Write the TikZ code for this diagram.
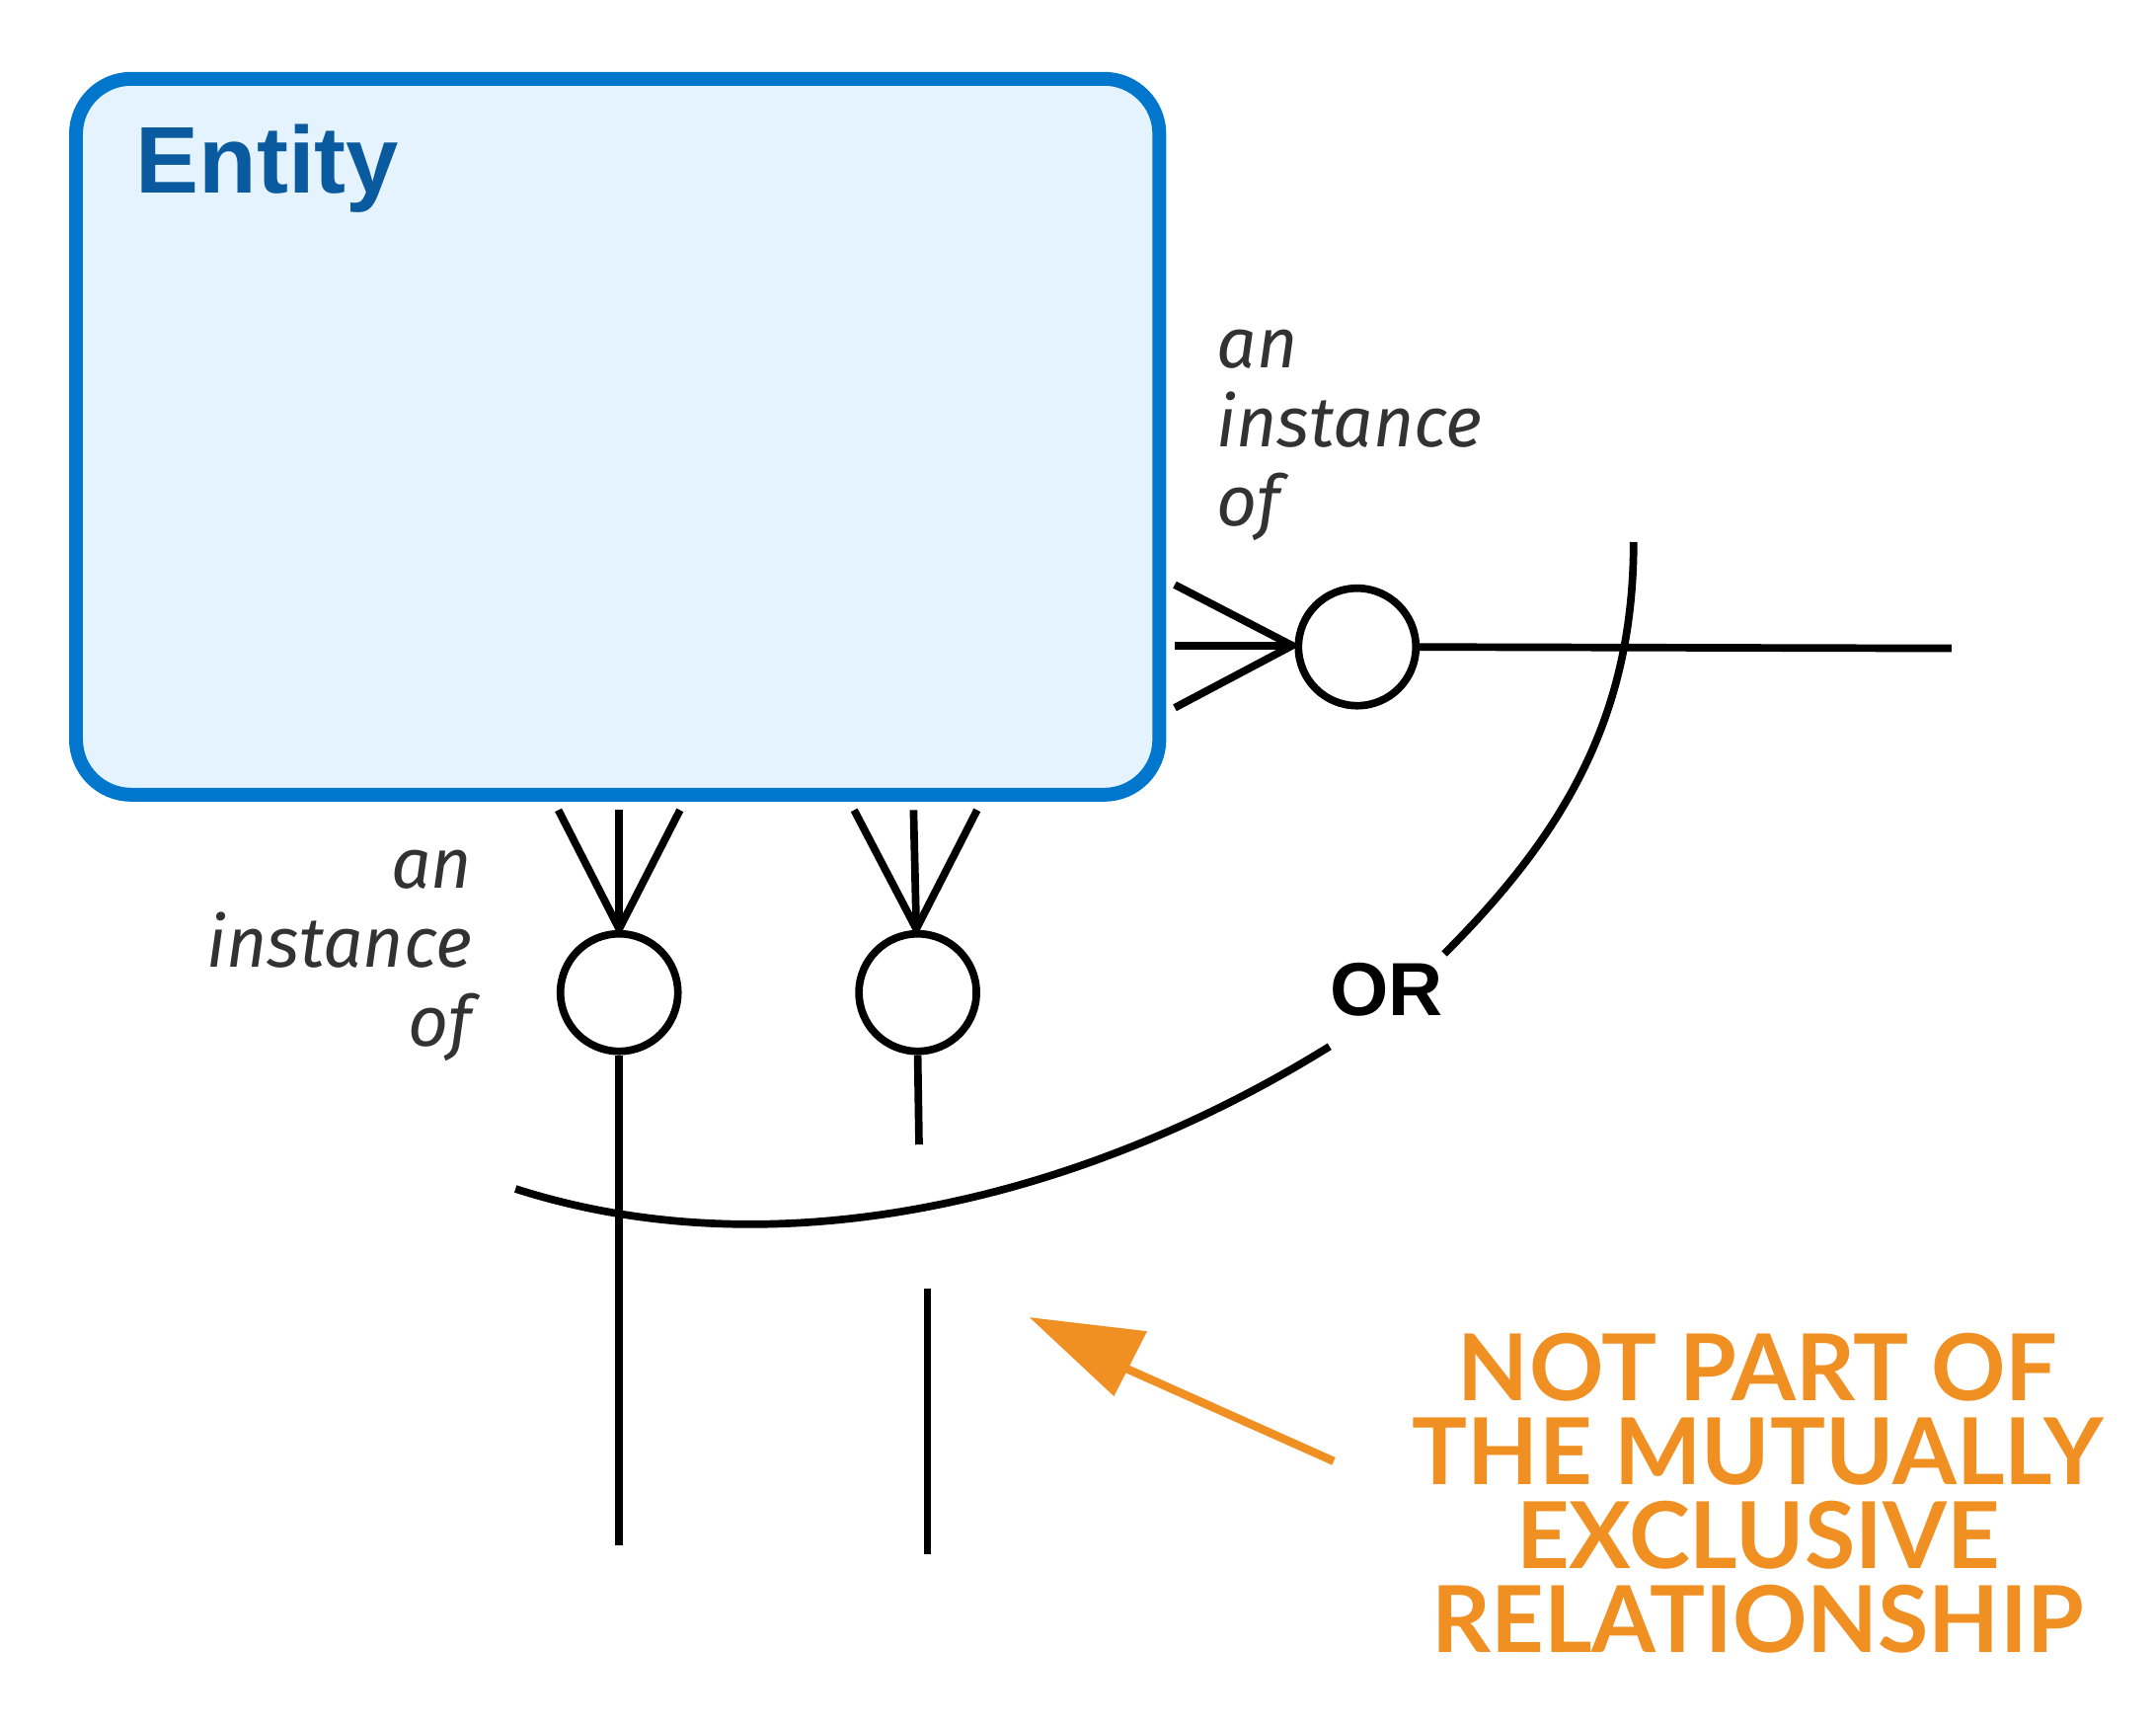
\documentclass[tikz,border=0pt]{standalone}
\usepackage{fontspec}
\setmainfont{Fira Sans}
\newfontfamily\entityfont{Liberation Sans}
\newfontfamily\notefont{Lato}
\usetikzlibrary{positioning}
\usetikzlibrary{calc}
\definecolor{boxblue}{RGB}{0,119,204}
\definecolor{boxfill}{RGB}{228,243,253}
\definecolor{titleblue}{RGB}{10,90,160}
\definecolor{notegray}{RGB}{50,50,50}
\definecolor{noteorange}{RGB}{240,143,34}

\begin{document}
\begin{tikzpicture}[x=0.02cm,y=-0.02cm,
            entitynode/.style={rectangle, rounded corners=0.8cm, draw=boxblue, fill=boxfill, line width=0.2cm},
            optnode/.style={circle, draw, line width=0.11cm, minimum size=1.7cm, inner sep=0pt},
            relline/.style={line width=0.11cm},
            labeltext/.style={font=\fontsize{29}{32.5}\selectfont\itshape, text=notegray, inner sep=0pt},
            ]

            \useasboundingbox (0,0) rectangle (1560,1250);

            \node[entitynode, minimum width=15.68cm, minimum height=10.36cm, anchor=north west] (entity) at (50,52) {};
            \node[anchor=north west, font=\entityfont\bfseries\fontsize{39}{48}\selectfont, text=titleblue, inner sep=0pt] (title) at (98,90) {Entity};

            % right relationship
            \node[optnode] (optR) at (982,468) {};
            \coordinate (footR) at (935,467);
            \coordinate (r1) at (850,423);
            \coordinate (r2) at (850,467);
            \coordinate (r3) at (850,512);
            \coordinate (endR) at (1412,469);
            \draw[relline] (r1) -- (footR) -- (r3);
            \draw[relline] (r2) -- (footR);
            \draw[relline] (optR.east) -- (endR);

            % left relationship
            \node[optnode] (optL) at (448,718) {};
            \coordinate (footL) at (448,672);
            \coordinate (l1) at (404,586);
            \coordinate (l2) at (448,586);
            \coordinate (l3) at (492,586);
            \coordinate (endL) at (448,1118);
            \draw[relline] (l1) -- (footL) -- (l3);
            \draw[relline] (l2) -- (footL);
            \draw[relline] (optL.south) -- (endL);

            % middle relationship
            \node[optnode] (optM) at (664,718) {};
            \coordinate (footM) at (663,672);
            \coordinate (m1) at (618,586);
            \coordinate (m2) at (661,586);
            \coordinate (m3) at (707,586);
            \coordinate (cutM) at (665,828);
            \coordinate (restTop) at (671,932);
            \coordinate (restBot) at (671,1124);
            \draw[relline] (m1) -- (footM) -- (m3);
            \draw[relline] (m2) -- (footM);
            \draw[relline] (optM.south) -- (cutM);
            \draw[relline] (restTop) -- (restBot);

            % exclusive arc
            \node[font=\entityfont\bfseries\fontsize{31}{36}\selectfont, inner sep=0pt] (or) at (1003,716) {OR};
            \coordinate (arcA) at (1182,392);
            \coordinate (arcB) at (1045,690);
            \coordinate (arcC) at (962,757);
            \coordinate (arcD) at (373,860);
            \draw[relline] (arcA) .. controls (1182,520) and (1130,605) .. (arcB);
            \draw[relline] (arcC) .. controls (780,870) and (560,920) .. (arcD);

            % labels
            \node[labeltext, anchor=north west, align=left] (labR) at (880,238) {an\\instance\\of};
            \node[labeltext, anchor=north east, align=right] (labL) at (342,615) {an\\instance\\of};

            % note
            \node[font=\notefont\bfseries\fontsize{38}{34.5}\selectfont, text=noteorange, align=center, inner sep=0pt] (note) at (1272,1080) {NOT PART OF\\THE MUTUALLY\\EXCLUSIVE\\RELATIONSHIP};
            \coordinate (noteTail) at (965,1057);
            \coordinate (noteTip) at (745,953);
            \draw[noteorange, line width=0.12cm] (noteTail) -- (815,990);
            \fill[noteorange] (noteTip) -- (830,963) -- (806,1010) -- cycle;
        \end{tikzpicture}
\end{document}
